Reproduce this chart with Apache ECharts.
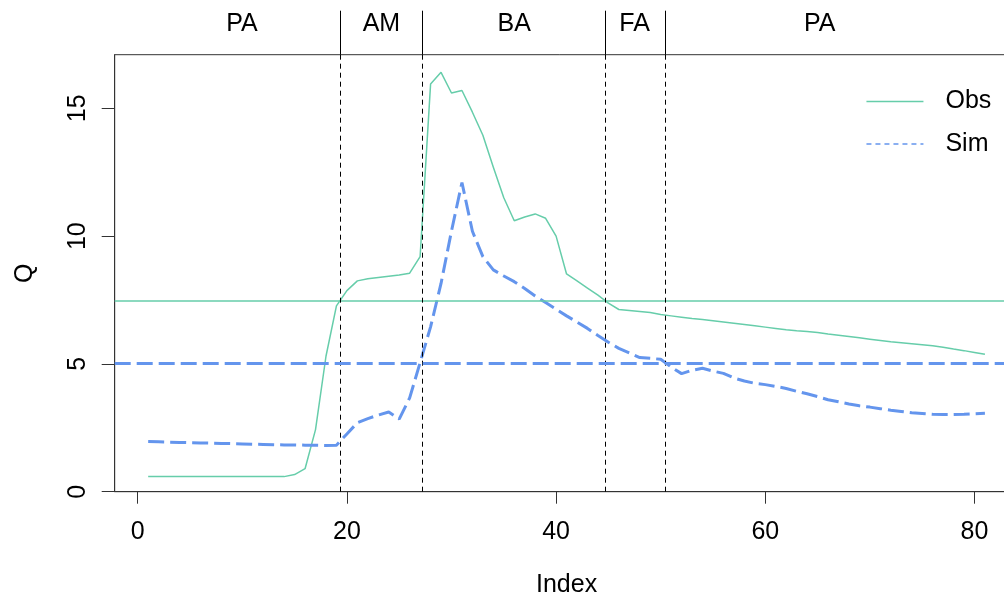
<!DOCTYPE html>
<html>
<head>
<meta charset="utf-8">
<script src="https://cdn.jsdelivr.net/npm/echarts@6/dist/echarts.min.js"></script>
<style>
  html, body { margin: 0; padding: 0; background: #fff; }
  #chartDom { width: 1004px; height: 595px; }
</style>
</head>
<body>
<div id="chartDom"></div>
<script>
// observed and simulated Q, one value per index 1..81
const obs = [
  0.59, 0.59, 0.59, 0.59, 0.59, 0.59, 0.59, 0.59, 0.59, 0.59,
  0.59, 0.59, 0.59, 0.59, 0.67, 0.9, 2.43, 5.3, 7.27, 7.87,
  8.25, 8.33, 8.38, 8.43, 8.48, 8.55, 9.2, 15.95, 16.41, 15.6,
  15.7, 14.85, 13.95, 12.7, 11.5, 10.6, 10.75, 10.87, 10.7, 10.0,
  8.52, 8.25, 7.97, 7.69, 7.38, 7.13, 7.09, 7.05, 7.01, 6.93,
  6.88, 6.83, 6.78, 6.74, 6.69, 6.64, 6.59, 6.54, 6.49, 6.44,
  6.39, 6.34, 6.3, 6.27, 6.23, 6.17, 6.12, 6.07, 6.02, 5.97,
  5.92, 5.87, 5.83, 5.79, 5.75, 5.71, 5.65, 5.58, 5.52, 5.45,
  5.38
];
const sim = [
  1.96, 1.95, 1.94, 1.93, 1.92, 1.91, 1.9, 1.89, 1.88, 1.87,
  1.86, 1.85, 1.84, 1.83, 1.83, 1.82, 1.82, 1.81, 1.82, 2.26,
  2.7, 2.86, 3.0, 3.12, 2.84, 3.67, 5.05, 6.45, 8.15, 10.2,
  12.1, 10.19, 9.2, 8.68, 8.44, 8.22, 7.95, 7.66, 7.4, 7.14,
  6.88, 6.64, 6.39, 6.11, 5.85, 5.61, 5.43, 5.25, 5.22, 5.18,
  4.88, 4.62, 4.75, 4.83, 4.72, 4.63, 4.45, 4.33, 4.24, 4.19,
  4.12, 4.04, 3.93, 3.83, 3.72, 3.6, 3.52, 3.43, 3.36, 3.31,
  3.25, 3.19, 3.14, 3.09, 3.06, 3.03, 3.02, 3.02, 3.03, 3.05,
  3.07
];
const obsMean = 7.47;
const simMean = 5.03;

// phase boundaries and labels on top of the plot
const phaseBreaks = [19.39, 27.17, 44.74, 50.48];
const phaseLabels = ['PA', 'AM', 'BA', 'FA', 'PA'];
const phaseCenters = [9.97, 23.3, 36.0, 47.5, 65.2];

const xTicks = [0, 20, 40, 60, 80];
const yTicks = [0, 5, 10, 15];

const obsColor = '#66CDAA';
const simColor = '#6495ED';
const font = 'Liberation Sans, Arial, sans-serif';

const chart = echarts.init(document.getElementById('chartDom'));
chart.setOption({
  animation: false,
  backgroundColor: '#fff',
  textStyle: { fontFamily: font },
  grid: {
    left: 114.7, right: -14.4, top: 54.7, bottom: 103.3, show: true, outerBoundsMode: 'none',
    borderColor: '#333', borderWidth: 1, backgroundColor: 'transparent'
  },
  legend: {
    orient: 'vertical',
    left: 860.7,
    top: 84,
    itemWidth: 57,
    itemHeight: 14,
    itemGap: 17.5,
    textStyle: { fontSize: 25, color: '#000', fontFamily: font, lineHeight: 24, padding: [0, 0, 0, 17] },
    data: [
      { name: 'Obs', lineStyle: { width: 1.5 }, itemStyle: { opacity: 0 } },
      { name: 'Sim', lineStyle: { width: 1.5, type: [5, 4] }, itemStyle: { opacity: 0 } }
    ]
  },
  xAxis: [
    {
      type: 'value', min: -2.2, max: 84.2, position: 'bottom',
      name: 'Index', nameLocation: 'middle', nameGap: 81,
      nameTextStyle: { fontSize: 25, color: '#000', fontFamily: font },
      axisLine: { show: true, onZero: false, lineStyle: { color: '#333' } },
      axisTick: { show: true, length: 12, customValues: xTicks, lineStyle: { color: '#333' } },
      axisLabel: { fontSize: 25, color: '#000', margin: 28, customValues: xTicks },
      splitLine: { show: false }
    },
    {
      // phase strip above the plot: ticks mark the breaks, labels name the phases
      type: 'value', min: -2.2, max: 84.2, position: 'top',
      axisLine: { show: false, onZero: false },
      axisTick: { show: true, length: 44, customValues: phaseBreaks, lineStyle: { color: '#000', width: 1 } },
      axisLabel: {
        fontSize: 25, color: '#000', margin: 17.7, customValues: phaseCenters,
        formatter: v => phaseLabels[phaseCenters.indexOf(v)]
      },
      splitLine: { show: false }
    }
  ],
  yAxis: [
    {
      type: 'value', min: 0, max: 17.1, position: 'left',
      name: 'Q', nameLocation: 'middle', nameGap: 77, nameRotate: 90,
      nameTextStyle: { fontSize: 25, color: '#000', fontFamily: font },
      axisLine: { show: true, onZero: false, lineStyle: { color: '#333' } },
      axisTick: { show: false },
      axisLabel: { fontSize: 25, color: '#000', margin: 24, rotate: 90, customValues: yTicks },
      splitLine: { show: false }
    },
    {
      // tick marks only, drawn above the rotated labels of the first y axis
      type: 'value', min: 0, max: 17.1, position: 'left', z: 10,
      axisLine: { show: false, onZero: false },
      axisTick: { show: true, length: 13, customValues: yTicks, lineStyle: { color: '#333', width: 1 } },
      axisLabel: { show: false },
      splitLine: { show: false }
    }
  ],
  series: [
    {
      name: 'Obs', type: 'line',
      data: obs.map((v, i) => [i + 1, v]),
      symbol: 'none', color: obsColor,
      lineStyle: { color: obsColor, width: 1.5 },
      markLine: {
        silent: true, symbol: 'none', label: { show: false },
        data: [
          { yAxis: obsMean, lineStyle: { color: obsColor, width: 1.5, type: 'solid' } }
        ].concat(phaseBreaks.map(b => ({
          xAxis: b, lineStyle: { color: '#000', width: 1, type: [5, 4] }
        })))
      }
    },
    {
      name: 'Sim', type: 'line',
      data: sim.map((v, i) => [i + 1, v]),
      symbol: 'none', color: simColor,
      lineStyle: { color: simColor, width: 3, type: [16, 6] },
      markLine: {
        silent: true, symbol: 'none', label: { show: false },
        data: [{ yAxis: simMean, lineStyle: { color: simColor, width: 3, type: [16, 6] } }]
      }
    }
  ]
});
</script>
</body>
</html>
